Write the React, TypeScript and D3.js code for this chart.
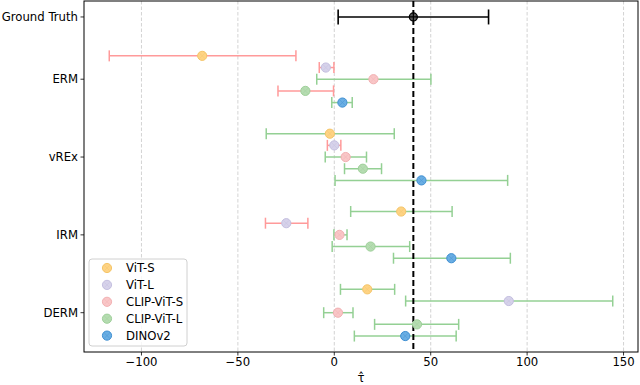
import React from 'react';
import * as d3 from 'd3';

const methods = ['ERM', 'vREx', 'IRM', 'DERM'];
const methodPos = [3, 2, 1, 0];
const models = ['ViT-S', 'ViT-L', 'CLIP-ViT-S', 'CLIP-ViT-L', 'DINOv2'];
const modelOffsets = [0.3, 0.15, 0, -0.15, -0.3];
const modelColors = ['#fed384', '#d6d2ea', '#f9c6c7', '#b5dcb1', '#6aaee3'];
const modelStrokes = ['#f5c568', '#c4bfe0', '#f2b0b2', '#9fd09a', '#3f8fd2'];

const estERM = [-68.5, -4.4, 20.3, -15.0, 4.2];
const loERM = [-116.7, -7.8, -9.1, -29.2, -1.3];
const hiERM = [-19.9, -0.2, 50.1, -0.4, 9.3];
const okERM = [0, 0, 1, 0, 1];

const estVREx = [-2.3, 0.0, 5.9, 14.8, 45.2];
const loVREx = [-35.3, -3.6, -4.7, 5.3, 0.4];
const hiVREx = [31.1, 3.4, 16.7, 24.5, 89.9];
const okVREx = [1, 0, 1, 1, 1];

const estIRM = [34.7, -24.9, 2.7, 18.8, 60.7];
const loIRM = [8.5, -35.7, -0.2, -1.1, 30.7];
const hiIRM = [61.1, -13.7, 6.6, 39.1, 91.3];
const okIRM = [1, 0, 1, 1, 1];

const estDERM = [17.1, 90.5, 1.9, 42.9, 36.8];
const loDERM = [3.2, 37.0, -5.5, 20.9, 10.4];
const hiDERM = [31.3, 144.4, 9.7, 64.5, 63.2];
const okDERM = [1, 1, 1, 1, 1];

const gtLabel = 'Ground Truth';
const gtPos = 3.8;
const gtEst = 41;
const gtLo = 2;
const gtHi = 80;

const xTicks = [-100, -50, 0, 50, 100, 150];

const ests = [estERM, estVREx, estIRM, estDERM];
const los = [loERM, loVREx, loIRM, loDERM];
const his = [hiERM, hiVREx, hiIRM, hiDERM];
const oks = [okERM, okVREx, okIRM, okDERM];

const FONT = 'DejaVu Sans, sans-serif';
const FS = 11.7;

export default function App() {
  const W = 640, H = 385;
  const left = 84, right = 638, top = 1, bottom = 352;
  const x = d3.scaleLinear().domain([-129.8, 157.5]).range([left, right]);
  const y = d3.scaleLinear().domain([-0.505, 4.005]).range([bottom, top]);
  const red = '#ff9a9a';
  const green = '#94d094';
  const cap = 5.5;

  const rows: any[] = [];
  methods.forEach((m, i) => {
    models.forEach((md, j) => {
      rows.push({
        yv: methodPos[i] + modelOffsets[j],
        est: ests[i][j], lo: los[i][j], hi: his[i][j], ok: oks[i][j], j,
      });
    });
  });

  const marker = (cx: number, cy: number, fill: string, stroke: string, key: string) => (
    <g key={key}>
      <circle cx={cx} cy={cy} r={4.6} fill={fill} stroke={stroke} strokeWidth={1} />
      <path d={`M${cx - 2.6},${cy - 2.6}L${cx + 2.6},${cy + 2.6}M${cx - 2.6},${cy + 2.6}L${cx + 2.6},${cy - 2.6}`}
        stroke={stroke} strokeWidth={0.7} opacity={0.6} />
    </g>
  );

  const legendY0 = 268;
  const legendStep = 16.9;

  return (
    <svg width={W} height={H} style={{ position: 'absolute', left: 0, top: 0, background: '#fff' }}
      fontFamily={FONT} fontSize={FS}>
      <rect x={0} y={0} width={W} height={H} fill="#fff" />
      {/* grid */}
      {xTicks.map(t => (
        <line key={'g' + t} x1={x(t)} x2={x(t)} y1={top} y2={bottom} stroke="#c8c8c8" strokeWidth={0.8} strokeDasharray="3.5,2" />
      ))}
      {/* error bars */}
      {rows.map((r, k) => {
        const c = r.ok ? green : red;
        const cy = y(r.yv);
        return (
          <g key={'e' + k} stroke={c} strokeWidth={1.5}>
            <line x1={x(r.lo)} x2={x(r.hi)} y1={cy} y2={cy} />
            <line x1={x(r.lo)} x2={x(r.lo)} y1={cy - cap} y2={cy + cap} />
            <line x1={x(r.hi)} x2={x(r.hi)} y1={cy - cap} y2={cy + cap} />
          </g>
        );
      })}
      {/* ground truth */}
      <g stroke="#000" strokeWidth={1.6}>
        <line x1={x(gtLo)} x2={x(gtHi)} y1={y(gtPos)} y2={y(gtPos)} />
        <line x1={x(gtLo)} x2={x(gtLo)} y1={y(gtPos) - 7.5} y2={y(gtPos) + 7.5} />
        <line x1={x(gtHi)} x2={x(gtHi)} y1={y(gtPos) - 7.5} y2={y(gtPos) + 7.5} />
      </g>
      <line x1={x(gtEst)} x2={x(gtEst)} y1={top} y2={bottom} stroke="#000" strokeWidth={2} strokeDasharray="6,3" />
      {/* markers */}
      {rows.map((r, k) => marker(x(r.est), y(r.yv), modelColors[r.j], modelStrokes[r.j], 'm' + k))}
      <g>
        <circle cx={x(gtEst)} cy={y(gtPos)} r={4} fill="#555" stroke="#000" strokeWidth={1.3} />
        <path d={`M${x(gtEst) - 4},${y(gtPos)}L${x(gtEst) + 4},${y(gtPos)}M${x(gtEst)},${y(gtPos) - 4}L${x(gtEst)},${y(gtPos) + 4}`} stroke="#000" strokeWidth={1.2} />
      </g>
      {/* spines */}
      <rect x={left} y={top} width={right - left} height={bottom - top} fill="none" stroke="#000" strokeWidth={1} />
      {/* x axis */}
      {xTicks.map(t => (
        <g key={'xt' + t}>
          <line x1={x(t)} x2={x(t)} y1={bottom} y2={bottom + 3.5} stroke="#000" strokeWidth={0.8} />
          <text x={x(t)} y={bottom + 5} dy="0.8em" textAnchor="middle" fill="#000">{t < 0 ? '\u2212' + Math.abs(t) : String(t)}</text>
        </g>
      ))}
      <text x={(left + right) / 2} y={382} textAnchor="middle" fill="#000">{'\u03C4\u0302'}</text>
      {/* y axis */}
      {[...methods.map((m, i) => ({ label: m, v: methodPos[i] })), { label: gtLabel, v: gtPos }].map(d => (
        <g key={'yt' + d.label}>
          <line x1={left - 3.5} x2={left} y1={y(d.v)} y2={y(d.v)} stroke="#000" strokeWidth={0.8} />
          <text x={left - 6} y={y(d.v)} dy="0.35em" textAnchor="end" fill="#000">{d.label}</text>
        </g>
      ))}
      {/* legend */}
      <rect x={89} y={259} width={98} height={87} rx={3} fill="#fff" fillOpacity={0.8} stroke="#d0d0d0" strokeWidth={1} />
      {models.map((md, j) => (
        <g key={'l' + md}>
          {marker(107, legendY0 + j * legendStep, modelColors[j], modelStrokes[j], 'lm' + j)}
          <text x={126} y={legendY0 + j * legendStep} dy="0.35em" fill="#000">{md}</text>
        </g>
      ))}
    </svg>
  );
}
